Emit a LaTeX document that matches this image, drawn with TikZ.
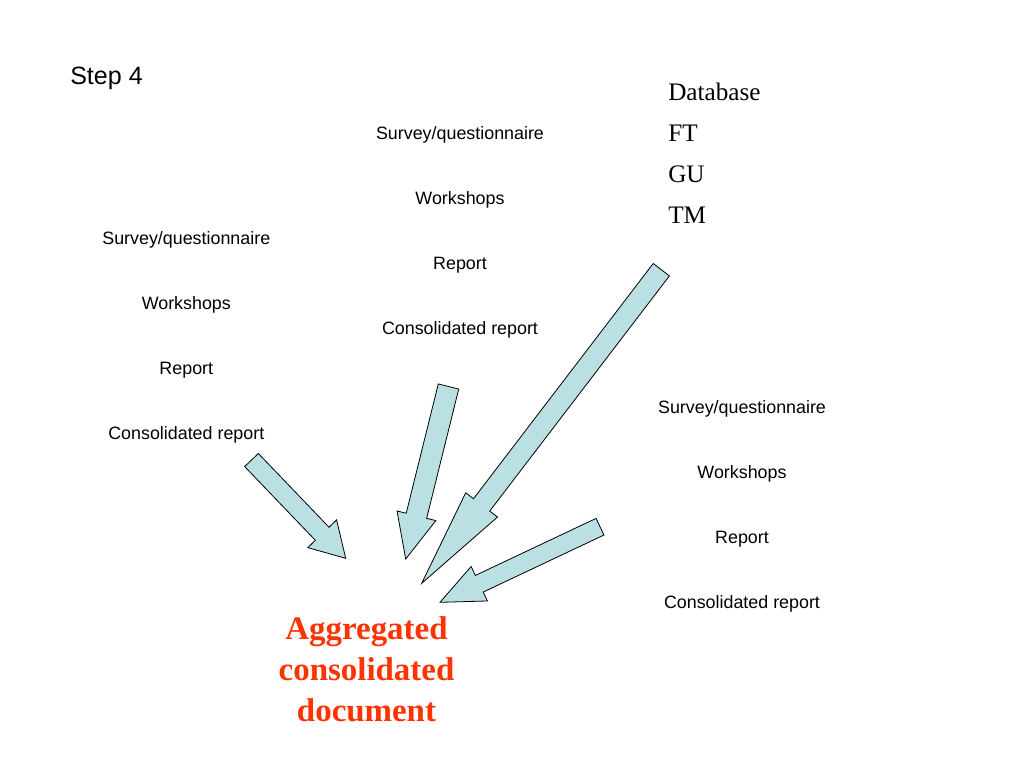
\documentclass[tikz,border=0pt]{standalone}
\usepackage{fontspec}
\setmainfont{Liberation Serif}
\newfontfamily\arialf{Liberation Sans}
\usetikzlibrary{calc}
\definecolor{arrowfill}{RGB}{187,224,227}
\definecolor{resred}{RGB}{255,51,0}
\tikzset{
  lbl/.style={font=\arialf\fontsize{13.4}{16}\selectfont, anchor=base, inner sep=0pt},
  steplbl/.style={font=\arialf\fontsize{18.8}{22}\selectfont, anchor=base west, inner sep=0pt},
  dblbl/.style={font=\fontsize{18.9}{22}\selectfont, anchor=base west, inner sep=0pt},
  reslbl/.style={font=\bfseries\fontsize{24.7}{30.5}\selectfont, text=resred, align=center, anchor=base, inner sep=0pt},
  arrowbody/.style={draw=black, line width=0.6pt, fill=arrowfill, line join=miter},
}
% #1 name, #2 tail centre, #3 tip, #4 shaft half width, #5 head half width, #6 head length
\newcommand{\blkarrow}[6]{%
  \coordinate (#1t) at (#2);
  \coordinate (#1h) at (#3);
  \coordinate (#1b) at ($(#1h)!#6!(#1t)$);
  \draw[arrowbody] ($(#1t)!#4!90:(#1h)$) -- ($(#1b)!#4!-90:(#1t)$) -- ($(#1b)!#5!-90:(#1t)$)
    -- (#1h) -- ($(#1b)!#5!90:(#1t)$) -- ($(#1b)!#4!90:(#1t)$) -- ($(#1t)!#4!-90:(#1h)$) -- cycle;
}
\begin{document}
\begin{tikzpicture}[x=0.75pt,y=-0.75pt]
\useasboundingbox[fill=white] (0,0) rectangle (1024,768);

\node[steplbl] (step) at (70,84) {Step 4};

% column 1
\node[lbl] (s1) at (186.3,244.5) {Survey/questionnaire};
\node[lbl] (w1) at (186.3,309.5) {Workshops};
\node[lbl] (r1) at (186.3,374.5) {Report};
\node[lbl] (c1) at (186.3,439.5) {Consolidated report};

% column 2
\node[lbl] (s2) at (460,139.5) {Survey/questionnaire};
\node[lbl] (w2) at (460,204.5) {Workshops};
\node[lbl] (r2) at (460,269.5) {Report};
\node[lbl] (c2) at (460,334.5) {Consolidated report};

% column 3
\node[lbl] (s3) at (742,413.5) {Survey/questionnaire};
\node[lbl] (w3) at (742,478.5) {Workshops};
\node[lbl] (r3) at (742,543.5) {Report};
\node[lbl] (c3) at (742,608.5) {Consolidated report};

% database
\node[dblbl] (db) at (668,100) {Database};
\node[dblbl] (ft) at (668,141.5) {FT};
\node[dblbl] (gu) at (668,182.5) {GU};
\node[dblbl] (tm) at (668,223.5) {TM};

% result (base anchor = baseline of last line)
\node[reslbl] (res) at (366.5,721) {Aggregated\\consolidated\\document};

% block arrows
\blkarrow{aa}{251.5,460}{345.7,558.3}{7.1pt}{15pt}{25.5pt}
\blkarrow{ab}{448.5,386.5}{405.7,559}{7.9pt}{15pt}{33.4pt}
\blkarrow{ac}{661.3,269.7}{421.7,583.3}{7.65pt}{15pt}{74pt}
\blkarrow{ad}{600,526.7}{440,602.3}{6.9pt}{14.3pt}{32.6pt}
\end{tikzpicture}
\end{document}
